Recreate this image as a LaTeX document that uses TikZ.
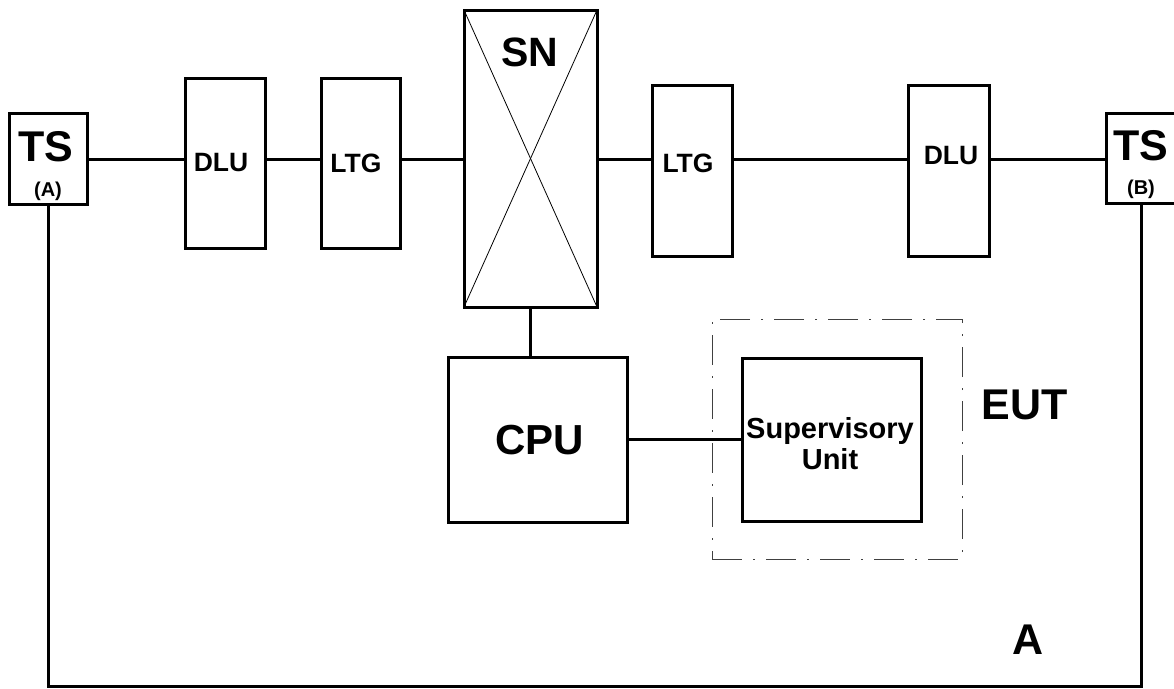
\documentclass[tikz,border=0pt]{standalone}
\usepackage{fontspec}
\setmainfont{Liberation Sans}
\begin{document}
\begin{tikzpicture}[x=1pt,y=-1pt,
  blk/.style={draw,line width=3pt,minimum width=#1,inner sep=0pt,outer sep=0pt},
  wire/.style={line width=3pt},
  lbl/.style={inner sep=0pt,font=\bfseries\fontsize{#1}{#1}\selectfont},
  eutbox/.style={draw=black!75,line width=0.9pt,dash pattern=on 30pt off 11pt on 2pt off 11pt,inner sep=0pt,outer sep=0pt}]
\useasboundingbox (0,0) rectangle (1174,688);
% boxes
\node[blk=78pt,minimum height=91pt] (tsa) at (48,158.5) {};
\node[blk=70pt,minimum height=90pt] (tsb) at (1141,158) {};
\node[blk=80pt,minimum height=170pt] (dlua) at (225,163) {};
\node[blk=79pt,minimum height=170pt] (ltga) at (360.5,163) {};
\node[blk=133pt,minimum height=297pt] (sn) at (530.5,158.5) {};
\node[blk=80pt,minimum height=171pt] (ltgb) at (692,170.5) {};
\node[blk=81pt,minimum height=171pt] (dlub) at (948.5,170.5) {};
\node[blk=179pt,minimum height=165pt] (cpu) at (537.5,439.5) {};
\node[blk=179pt,minimum height=163pt] (su) at (831.5,439.5) {};
\node[eutbox,minimum width=250pt,minimum height=240pt] (eut) at (837,439) {};
% SN cross
\draw[line width=0.8pt] (sn.north west) -- (sn.south east);
\draw[line width=0.8pt] (sn.north east) -- (sn.south west);
% labels
\node[lbl=43] (tsat) at (46,147) {TS};
\node[lbl=20] (tsaa) at (48,191) {(A)};
\node[lbl=43] (tsbt) at (1141,146) {TS};
\node[lbl=20] (tsbb) at (1141,189) {(B)};
\node[lbl=26.5] (dluat) at (221,163) {DLU};
\node[lbl=26.5] (ltgat) at (356,163) {LTG};
\node[lbl=41] (snt) at (530,52) {SN};
\node[lbl=26.5] (ltgbt) at (688,163) {LTG};
\node[lbl=26.5] (dlubt) at (951,156) {DLU};
\node[lbl=42] (cput) at (539.5,440) {CPU};
\node[align=center,inner sep=0pt,font=\bfseries\fontsize{29}{31}\selectfont] (sut) at (830,444) {Supervisory\\Unit};
\node[lbl=43] (eutt) at (1024.5,405) {EUT};
\node[lbl=43] (at) at (1028,640) {A};
% wires
\draw[wire] (tsa.east |- 0,159) -- (dlua.west |- 0,159);
\draw[wire] (dlua.east |- 0,159) -- (ltga.west |- 0,159);
\draw[wire] (ltga.east |- 0,159) -- (sn.west |- 0,159);
\draw[wire] (sn.east |- 0,159) -- (ltgb.west |- 0,159);
\draw[wire] (ltgb.east |- 0,159) -- (dlub.west |- 0,159);
\draw[wire] (dlub.east |- 0,159) -- (tsb.west |- 0,159);
\draw[wire] (sn.south) -- (sn.south |- cpu.north);
\draw[wire] (cpu.east) -- (su.west);
\coordinate (bl) at (48,686);
\coordinate (br) at (1141,686);
\draw[wire] (tsa.south) -- (bl) -- (br) -- (tsb.south);
\end{tikzpicture}
\end{document}
